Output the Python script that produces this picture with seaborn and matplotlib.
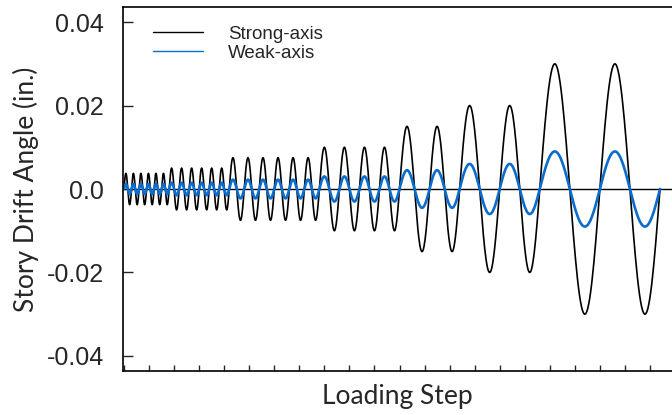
import numpy as np
import pandas as pd
import matplotlib
matplotlib.use("Agg")
import matplotlib.pyplot as plt
from matplotlib.ticker import MultipleLocator, FixedLocator, FixedFormatter, NullFormatter
import seaborn as sns

# Loading protocol
strong_amp = [0.00375, 0.005, 0.0075, 0.01, 0.015, 0.02, 0.03]
weak_amp = [0.0012, 0.0015, 0.00225, 0.003, 0.0045, 0.006, 0.009]
n_cycles = [6, 6, 6, 4, 2, 2, 2]
series_names = ["Strong-axis", "Weak-axis"]
ytick_vals = [-0.04, -0.02, 0.0, 0.02, 0.04]
ytick_labels = ["-0.04", "-0.02", "0.0", "0.02", "0.04"]

# Build the cyclic drift history (each cycle: one sine period, period proportional to amplitude)
rows = []
t0 = 0.0
for a_s, a_w, n in zip(strong_amp, weak_amp, n_cycles):
    for _ in range(n):
        ph = np.linspace(0, 2 * np.pi, 60)
        t = t0 + ph / (2 * np.pi) * a_s
        for ti, p in zip(t, ph):
            rows.append((ti, a_s * np.sin(p), series_names[0]))
            rows.append((ti, a_w * np.sin(p), series_names[1]))
        t0 += a_s
df = pd.DataFrame(rows, columns=["step", "drift", "series"])

sns.set_style("white")
plt.rcParams["font.family"] = ["Liberation Sans", "DejaVu Sans"]

fig = plt.figure(figsize=(6.72, 4.15), dpi=100)
ax = fig.add_axes([123 / 672, 1 - 371 / 415, 1 - 123 / 672, (371 - 7) / 415])

ax.axhline(0, color="black", lw=1.0, zorder=1)
sns.lineplot(data=df[df.series == series_names[0]], x="step", y="drift",
             color="black", lw=1.2, estimator=None, sort=False, label=series_names[0], ax=ax)
sns.lineplot(data=df[df.series == series_names[1]], x="step", y="drift",
             color="#0a6ccc", lw=1.9, estimator=None, sort=False, label=series_names[1], ax=ax)

ax.set_xlim(-0.0005, 0.2735)
ax.set_ylim(-0.0436, 0.0436)

ax.yaxis.set_major_locator(FixedLocator(ytick_vals))
ax.yaxis.set_major_formatter(FixedFormatter(ytick_labels))
ax.xaxis.set_major_locator(MultipleLocator(0.0125))
ax.xaxis.set_major_formatter(NullFormatter())
ax.tick_params(axis="y", direction="in", length=7, width=1, labelsize=18, pad=13.5, left=True)
ax.tick_params(axis="x", direction="in", length=4, width=1, bottom=True)

for s in ["left", "bottom", "top"]:
    ax.spines[s].set_visible(True)
    ax.spines[s].set_color("black")
    ax.spines[s].set_linewidth(1.2)
ax.spines["right"].set_visible(False)

ax.set_xlabel("Loading Step", family=["Lato", "DejaVu Sans"], fontsize=19, labelpad=6)
ax.set_ylabel("Story Drift Angle (in.)", family=["Lato", "DejaVu Sans"], fontsize=19, labelpad=6)

leg = ax.legend(loc="upper left", frameon=False, fontsize=13.5, handlelength=2.67,
                handletextpad=1.33, labelspacing=0.1, borderaxespad=0.0, borderpad=0.4,
                bbox_to_anchor=(22.5 / 549, 1 - 11 / 364))
for h in leg.get_lines():
    h.set_linewidth(1.0)

fig.savefig("out.png", dpi=100)
